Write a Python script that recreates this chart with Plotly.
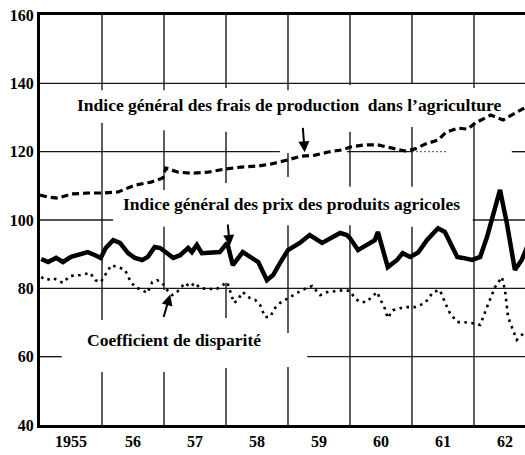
import plotly.graph_objects as go

# ---------------- data (decimal years, index values) ----------------
frais_years = [1955.00, 1955.13, 1955.29, 1955.50, 1955.77, 1956.02, 1956.26, 1956.53, 1956.79, 1956.98,
               1957.03, 1957.23, 1957.44, 1957.71, 1957.98, 1958.24, 1958.52, 1958.73, 1959.00, 1959.21,
               1959.44, 1959.65, 1959.86, 1960.02, 1960.24, 1960.45, 1960.66, 1960.89, 1961.05, 1961.21,
               1961.42, 1961.55, 1961.74, 1961.90, 1962.02, 1962.27, 1962.47, 1962.66, 1962.82, 1962.98]
frais_values = [107.3, 106.7, 106.4, 107.6, 107.9, 107.9, 108.2, 110.2, 111.1, 112.3,
                115.2, 114.0, 113.7, 114.0, 114.9, 115.5, 115.8, 116.4, 117.6, 118.7,
                119.0, 119.9, 120.5, 121.4, 122.0, 122.0, 121.1, 120.2, 120.8, 122.2,
                123.4, 125.7, 126.9, 126.6, 128.4, 130.7, 129.3, 131.3, 133.0, 134.5]

prix_years = [1955.02, 1955.13, 1955.26, 1955.37, 1955.50, 1955.65, 1955.77, 1955.89, 1955.98,
              1956.06, 1956.18, 1956.29, 1956.42, 1956.53, 1956.65, 1956.74, 1956.85, 1956.94,
              1957.02, 1957.15, 1957.26, 1957.39, 1957.45, 1957.53, 1957.61, 1957.79, 1957.90,
              1958.02, 1958.11, 1958.27, 1958.42, 1958.52, 1958.66, 1958.76, 1958.87,
              1959.00, 1959.19, 1959.35, 1959.55, 1959.71, 1959.84, 1959.95,
              1960.00, 1960.13, 1960.27, 1960.40, 1960.45, 1960.61, 1960.76, 1960.85, 1960.97,
              1961.10, 1961.24, 1961.42, 1961.53, 1961.65, 1961.73, 1961.82, 1961.97,
              1962.10, 1962.21, 1962.42, 1962.53, 1962.66, 1962.77, 1962.90]
prix_values = [88.6, 87.7, 88.9, 87.7, 89.2, 90.0, 90.6, 89.7, 88.9,
               91.8, 94.1, 93.3, 90.3, 88.9, 88.3, 89.2, 92.1, 91.8,
               90.6, 88.9, 89.7, 91.8, 90.6, 92.7, 90.3, 90.3, 90.6,
               93.3, 86.8, 90.6, 88.9, 87.7, 82.4, 83.9, 87.4,
               91.2, 93.3, 95.6, 93.3, 94.7, 96.2, 95.6,
               94.7, 91.2, 92.7, 94.1, 96.5, 86.2, 88.3, 90.3, 89.2,
               90.5, 94.1, 97.6, 96.5, 92.1, 89.2, 88.9, 88.3,
               89.2, 95.0, 108.8, 99.1, 85.4, 88.3, 94.0]

coef_years = [1955.02, 1955.10, 1955.21, 1955.37, 1955.48, 1955.65, 1955.81, 1955.89, 1955.98,
              1956.10, 1956.15, 1956.26, 1956.37, 1956.45, 1956.53, 1956.65, 1956.73, 1956.81, 1956.89, 1956.97,
              1957.05, 1957.13, 1957.21, 1957.34, 1957.42, 1957.50, 1957.58, 1957.69, 1957.85, 1957.95,
              1958.02, 1958.08, 1958.13, 1958.19, 1958.27, 1958.39, 1958.47, 1958.55, 1958.63, 1958.71,
              1958.79, 1958.87, 1958.95,
              1959.03, 1959.15, 1959.23, 1959.39, 1959.52, 1959.63, 1959.76, 1959.92,
              1960.00, 1960.08, 1960.16, 1960.27, 1960.35, 1960.44, 1960.48, 1960.56, 1960.61, 1960.69,
              1960.81, 1960.92,
              1961.05, 1961.21, 1961.34, 1961.45, 1961.53, 1961.61, 1961.73, 1961.82, 1961.98,
              1962.10, 1962.21, 1962.34, 1962.45, 1962.50, 1962.55, 1962.69, 1962.82, 1962.98]
coef_values = [83.3, 82.4, 83.0, 81.6, 83.6, 83.9, 84.5, 82.4, 81.8,
               85.4, 86.8, 86.2, 85.4, 82.4, 80.4, 79.5, 78.6, 81.8, 82.4, 81.6,
               79.5, 78.0, 78.9, 81.6, 80.4, 81.6, 80.1, 79.8, 79.8, 81.0,
               81.8, 78.5, 75.7, 76.6, 78.9, 77.1, 76.6, 75.1, 71.6, 71.6,
               74.2, 75.7, 76.6,
               77.5, 78.6, 79.5, 80.7, 78.0, 78.9, 79.2, 79.5,
               79.2, 77.1, 76.0, 76.0, 77.5, 78.9, 77.1, 74.2, 71.3, 73.6,
               74.2, 74.5,
               74.5, 75.7, 78.9, 79.5, 76.0, 72.8, 70.1, 70.1, 69.8,
               69.3, 74.5, 80.4, 83.3, 79.5, 71.6, 64.9, 67.2, 69.0]

y_ticks = [40, 60, 80, 100, 120, 140, 160]
x_tick_pos = [1955.5, 1956.5, 1957.5, 1958.5, 1959.5, 1960.5, 1961.5, 1962.5]
x_tick_text = ["1955", "56", "57", "58", "59", "60", "61", "62"]

label_frais = "Indice général des frais de production  dans l’agriculture"
label_prix = "Indice général des prix des produits agricoles"
label_coef = "Coefficient de disparité"

# ---------------- figure ----------------
SERIF = "Liberation Serif, Times New Roman, serif"
fig = go.Figure()

fig.add_trace(go.Scatter(x=frais_years, y=frais_values, mode="lines",
                         line=dict(color="black", width=3.2, dash="7px,4px"),
                         showlegend=False, hoverinfo="skip"))
fig.add_trace(go.Scatter(x=prix_years, y=prix_values, mode="lines",
                         line=dict(color="black", width=4.5),
                         showlegend=False, hoverinfo="skip"))
fig.add_trace(go.Scatter(x=coef_years, y=coef_values, mode="lines",
                         line=dict(color="black", width=2.6, dash="2.6px,4.4px"),
                         showlegend=False, hoverinfo="skip"))

# broken grid lines, as in the printed original
hgrid = [(140, 1955, 1963), (120, 1955, 1958.87), (120, 1959.95, 1961.0), (120, 1962.61, 1963),
         (100, 1955, 1956.18), (100, 1961.98, 1963), (80, 1955, 1963),
         (60, 1955, 1955.35), (60, 1959.31, 1963)]
vgrid = [(1956, 138.0, 160), (1956, 70.7, 128.4), (1956, 40, 55.5),
         (1957, 138.0, 160), (1957, 108.8, 126.3), (1957, 79.5, 98.0), (1957, 40, 55.5),
         (1958, 138.6, 160), (1958, 110.8, 125.8), (1958, 71.3, 81.6), (1958, 40, 56.7),
         (1959, 138.0, 160), (1959, 112.6, 119.6), (1959, 66.9, 98.5), (1959, 40, 57.0),
         (1960, 139.5, 160), (1960, 109.7, 125.8), (1960, 40, 98.5),
         (1961, 140.1, 160), (1961, 109.7, 127.2), (1961, 40, 98.0),
         (1962, 138.6, 160), (1962, 40, 128.4)]
shapes = []
for v, x0, x1 in hgrid:
    shapes.append(dict(type="line", xref="x", yref="y", x0=x0, x1=x1, y0=v, y1=v,
                       line=dict(color="#1a1a1a", width=1.4), layer="below"))
shapes.append(dict(type="line", xref="x", yref="y", x0=1961.0, x1=1961.58, y0=120, y1=120,
                   line=dict(color="#555", width=1, dash="2px,2px"), layer="below"))
for xv, y0, y1 in vgrid:
    shapes.append(dict(type="line", xref="x", yref="y", x0=xv, x1=xv, y0=y0, y1=y1,
                       line=dict(color="#1a1a1a", width=1.4), layer="below"))

annotations = [
    dict(x=1959.02, y=133.7, text="<b>" + label_frais + "</b>", showarrow=False,
         font=dict(family=SERIF, size=17.5, color="black")),
    dict(x=1959.06, y=104.8, text="<b>" + label_prix + "</b>", showarrow=False,
         font=dict(family=SERIF, size=17.5, color="black")),
    dict(x=1957.16, y=64.9, text="<b>" + label_coef + "</b>", showarrow=False,
         font=dict(family=SERIF, size=17.5, color="black")),
    dict(x=1959.27, y=119.8, text="", showarrow=True, ax=-2, ay=-26,
         arrowhead=2, arrowsize=1.1, arrowwidth=2, arrowcolor="black"),
    dict(x=1958.06, y=92.4, text="", showarrow=True, ax=-2, ay=-23,
         arrowhead=2, arrowsize=1.1, arrowwidth=2, arrowcolor="black"),
    dict(x=1957.10, y=78.2, text="", showarrow=True, ax=-7, ay=24,
         arrowhead=2, arrowsize=1.1, arrowwidth=2, arrowcolor="black"),
]

fig.update_layout(
    width=525, height=455,
    margin=dict(l=40, r=0, t=15, b=30, autoexpand=False),
    paper_bgcolor="white", plot_bgcolor="white",
    shapes=shapes, annotations=annotations,
    font=dict(family=SERIF, color="black"),
    hovermode=False,
)
fig.update_xaxes(range=[1955.0, 1962.823], showgrid=False, zeroline=False, automargin=False,
                 showline=True, linecolor="black", linewidth=3, mirror=True,
                 tickmode="array", tickvals=x_tick_pos, ticktext=["<b>" + t + "</b>" for t in x_tick_text],
                 ticks="", tickfont=dict(family=SERIF, size=16, color="black"))
fig.update_yaxes(range=[40, 160], showgrid=False, zeroline=False, automargin=False,
                 showline=True, linecolor="black", linewidth=3,
                 tickmode="array", tickvals=y_ticks, ticktext=["<b>%d</b>" % v for v in y_ticks],
                 ticks="", tickfont=dict(family=SERIF, size=16, color="black"))

fig.write_html("out.html", config={"displayModeBar": False, "staticPlot": True},
               post_script="document.body.style.margin='0';document.body.style.overflow='hidden';")
